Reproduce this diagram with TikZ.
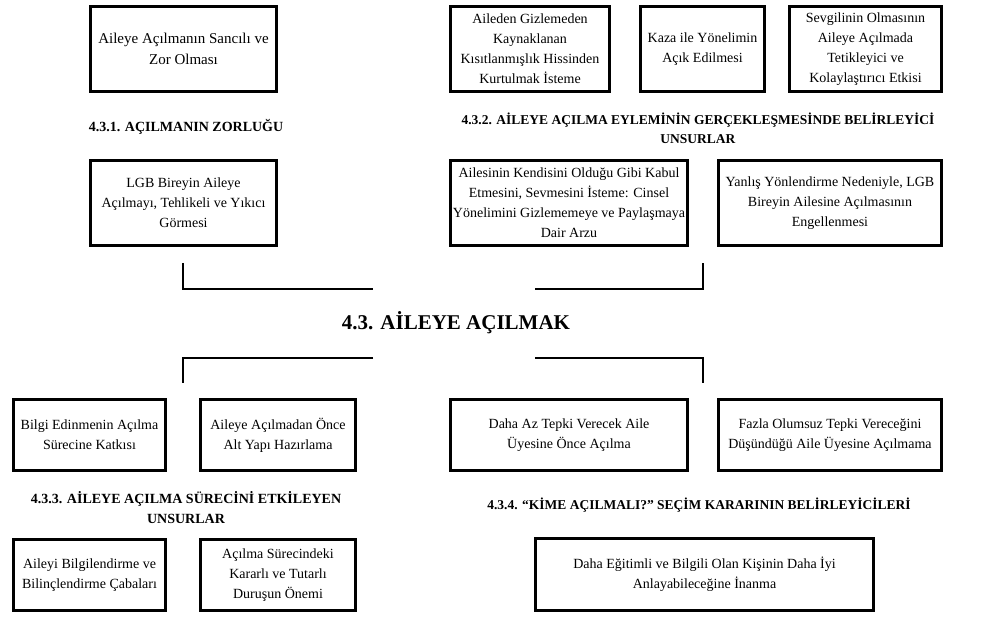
\documentclass[tikz,border=0pt]{standalone}
\usepackage{fontspec}
\setmainfont{Liberation Serif}
\begin{document}
\begin{tikzpicture}[x=1pt,y=-1pt,
  box/.style={draw=black, line width=2.6pt, align=center, inner sep=0pt,
    font=\fontsize{14}{20}\selectfont},
  head/.style={align=center, inner sep=0pt, font=\bfseries\fontsize{13.5}{19}\selectfont},
  headbig/.style={align=center, inner sep=0pt, font=\bfseries\fontsize{14}{20}\selectfont},
  titlehead/.style={inner sep=0pt, font=\bfseries\fontsize{21}{25}\selectfont},
  bracket/.style={draw=black, line width=1.8pt}]
\useasboundingbox[fill=white] (0,0) rectangle (994,617);

% top row
\node[box, font=\fontsize{15}{21}\selectfont, minimum width=186pt, minimum height=85pt] (b1) at (183.5,49) {Aileye Açılmanın Sancılı ve\\Zor Olması};
\node[box, minimum width=159pt, minimum height=85pt] (b2) at (530,49) {Aileden Gizlemeden\\Kaynaklanan\\Kısıtlanmışlık Hissinden\\Kurtulmak İsteme};
\node[box, minimum width=124pt, minimum height=85pt] (b3) at (702.5,49) {Kaza ile Yönelimin\\Açık Edilmesi};
\node[box, minimum width=152pt, minimum height=85pt] (b4) at (865.5,49) {Sevgilinin Olmasının\\Aileye Açılmada\\Tetikleyici ve\\Kolaylaştırıcı Etkisi};

% headings
\node[headbig] (h1) at (186,127) {4.3.1. AÇILMANIN ZORLUĞU};
\node[head] (h2) at (698,128) {4.3.2. AİLEYE AÇILMA EYLEMİNİN GERÇEKLEŞMESİNDE BELİRLEYİCİ\\UNSURLAR};

% second row
\node[box, minimum width=186pt, minimum height=85pt] (b5) at (183.5,203) {LGB Bireyin Aileye\\Açılmayı, Tehlikeli ve Yıkıcı\\Görmesi};
\node[box, minimum width=237pt, minimum height=85pt] (b6) at (569,203) {Ailesinin Kendisini Olduğu Gibi Kabul\\Etmesini, Sevmesini İsteme: Cinsel\\Yönelimini Gizlememeye ve Paylaşmaya\\Dair Arzu};
\node[box, minimum width=223pt, minimum height=85pt] (b7) at (830,203) {Yanlış Yönlendirme Nedeniyle, LGB\\Bireyin Ailesine Açılmasının\\Engellenmesi};

% title
\node[titlehead] (t) at (456,323) {4.3. AİLEYE AÇILMAK};

% brackets
\coordinate (ula) at (183,263);
\coordinate (ulb) at (183,289);
\coordinate (ulc) at (373,289);
\coordinate (ura) at (535,289);
\coordinate (urb) at (703,289);
\coordinate (urc) at (703,263);
\draw[bracket] (ula) -- (ulb) -- (ulc);
\draw[bracket] (ura) -- (urb) -- (urc);
\coordinate (lla) at (373,358);
\coordinate (llb) at (183,358);
\coordinate (llc) at (183,383);
\coordinate (lra) at (535,358);
\coordinate (lrb) at (703,358);
\coordinate (lrc) at (703,383);
\draw[bracket] (lla) -- (llb) -- (llc);
\draw[bracket] (lra) -- (lrb) -- (lrc);

% third row
\node[box, minimum width=152pt, minimum height=71pt] (b8) at (89.5,435) {Bilgi Edinmenin Açılma\\Sürecine Katkısı};
\node[box, minimum width=155pt, minimum height=71pt] (b9) at (278,435) {Aileye Açılmadan Önce\\Alt Yapı Hazırlama};
\node[box, minimum width=237pt, minimum height=71pt] (b10) at (569,435) {Daha Az Tepki Verecek Aile\\Üyesine Önce Açılma};
\node[box, minimum width=223pt, minimum height=71pt] (b11) at (830,435) {Fazla Olumsuz Tepki Vereceğini\\Düşündüğü Aile Üyesine Açılmama};

% lower headings
\node[headbig] (h3) at (186,508) {4.3.3. AİLEYE AÇILMA SÜRECİNİ ETKİLEYEN\\UNSURLAR};
\node[head] (h4) at (699,505) {4.3.4. “KİME AÇILMALI?” SEÇİM KARARININ BELİRLEYİCİLERİ};

% bottom row
\node[box, minimum width=152pt, minimum height=71pt] (b12) at (89.5,575) {Aileyi Bilgilendirme ve\\Bilinçlendirme Çabaları};
\node[box, minimum width=155pt, minimum height=71pt] (b13) at (278,575) {Açılma Sürecindeki\\Kararlı ve Tutarlı\\Duruşun Önemi};
\node[box, minimum width=338pt, minimum height=72pt] (b14) at (704.5,574.5) {Daha Eğitimli ve Bilgili Olan Kişinin Daha İyi\\Anlayabileceğine İnanma};
\end{tikzpicture}
\end{document}
